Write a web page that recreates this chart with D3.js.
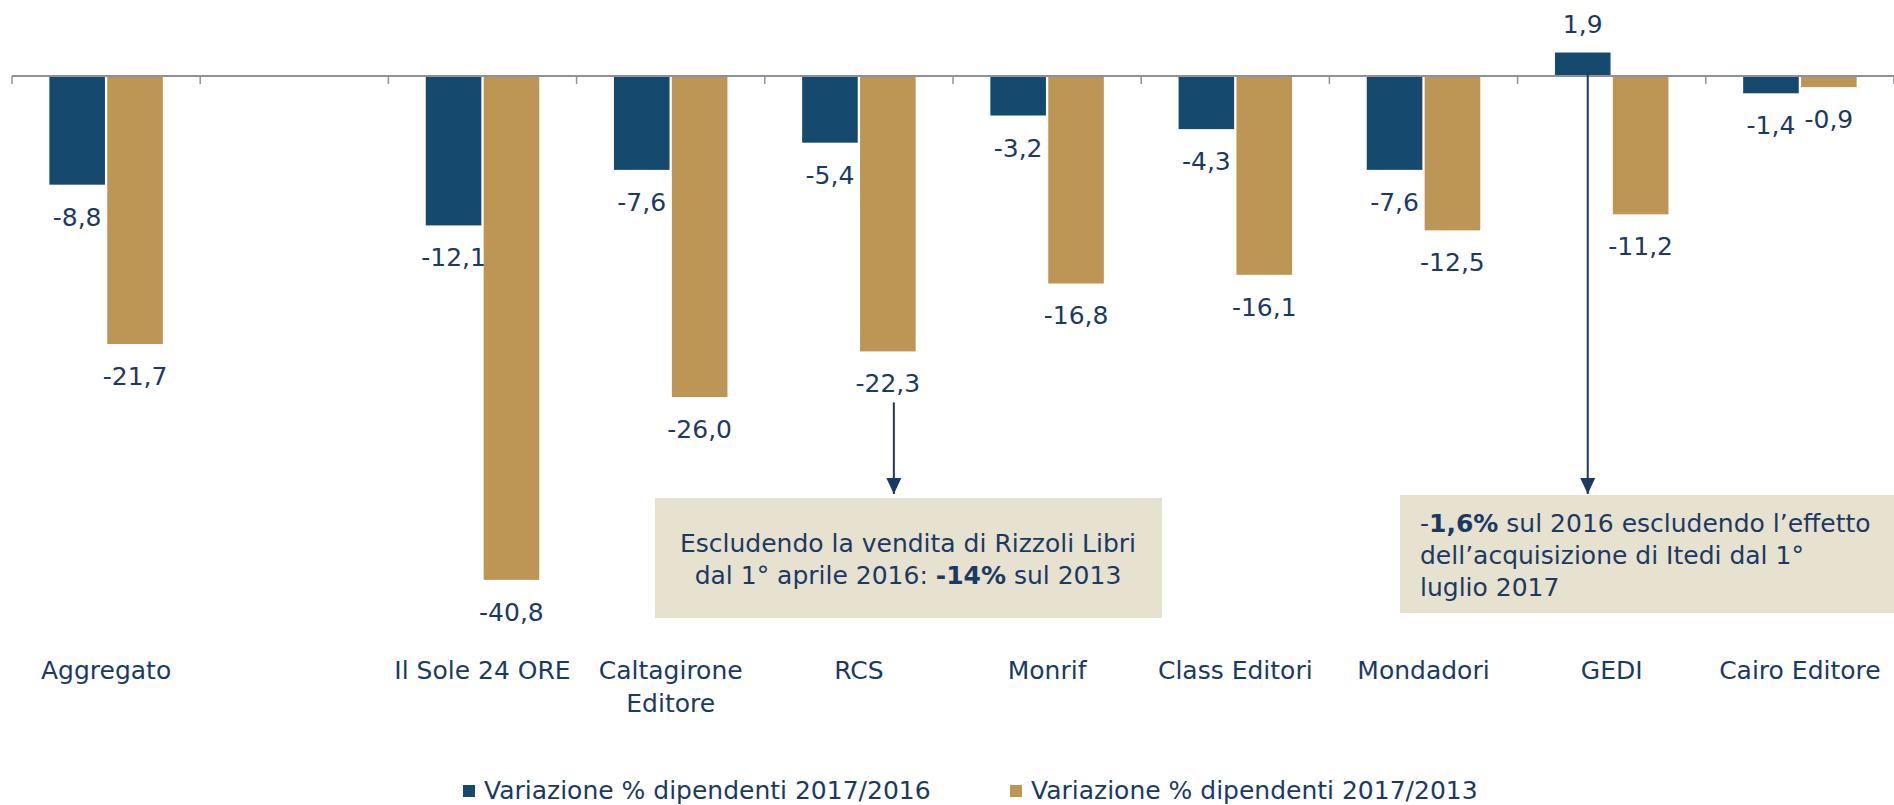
<!DOCTYPE html>
<html>
<head>
<meta charset="utf-8">
<style>
       body {
              margin: 0;
              background: #fff;
              font-family: "DejaVu Sans", sans-serif;
       }
       svg text {
              fill: #1b3a63;
              font-size: 25px;
       }
       .cat-label, .val-label {
              text-anchor: middle;
       }
</style>
</head>
<body>
<script src="https://cdn.jsdelivr.net/npm/d3@7"></script>
<script>

    var categories = ["Aggregato", "", "Il Sole 24 ORE", "Caltagirone\nEditore", "RCS",
"Monrif", "Class Editori", "Mondadori", "GEDI", "Cairo Editore"],
        var2016 = [-8.8, null, -12.1, -7.6, -5.4, -3.2, -4.3, -7.6, 1.9, -1.4],
        var2013 = [-21.7, null, -40.8, -26.0, -22.3, -16.8, -16.1, -12.5, -11.2, -0.9],
        seriesNames = ["Variazione % dipendenti 2017/2016", "Variazione % dipendenti 2017/2013"],
        seriesColors = ["#154a6e", "#bd9655"];

    var width = 1894,
        height = 805,
        left = 12,
        right = 1894,
        zeroY = 76,
        pxPerUnit = 12.35,
        labelGap = 41;

    var itLocale = d3.formatLocale({decimal: ",", thousands: ".", grouping: [3], currency: ["", "€"], minus: "-"});
    var fmt = itLocale.format(".1f");

    var svg = d3.select("body").append("svg")
        .attr("width", width)
        .attr("height", height);

    var x0 = d3.scaleBand()
        .domain(d3.range(categories.length))
        .range([left, right]);

    var groupW = x0.bandwidth() * 0.603;
    var x1 = d3.scaleBand()
        .domain([0, 1])
        .range([(x0.bandwidth() - groupW) / 2, (x0.bandwidth() + groupW) / 2])
        .paddingInner(0.04);

    var y = d3.scaleLinear()
        .domain([5, -45])
        .range([zeroY - 5 * pxPerUnit, zeroY + 45 * pxPerUnit]);

    // bars
    var series = [var2016, var2013];
    var rows = [];
    series.forEach(function(s, si) {
        s.forEach(function(v, ci) {
            if (v !== null) rows.push({s: si, c: ci, v: v});
        });
    });

    svg.append("g").selectAll("rect")
        .data(rows)
      .enter().append("rect")
        .attr("x", function(d) { return x0(d.c) + x1(d.s); })
        .attr("y", function(d) { return Math.min(y(d.v), y(0)); })
        .attr("width", x1.bandwidth())
        .attr("height", function(d) { return Math.abs(y(d.v) - y(0)); })
        .attr("fill", function(d) { return seriesColors[d.s]; });

    // axis line with ticks between categories
    var axis = svg.append("g").attr("stroke", "#8e909f");
    axis.append("line")
        .attr("x1", left).attr("x2", right)
        .attr("y1", y(0)).attr("y2", y(0))
        .attr("stroke-width", 2);
    axis.selectAll("line.tick")
        .data(d3.range(categories.length + 1))
      .enter().append("line")
        .attr("class", "tick")
        .attr("x1", function(i) { return left + i * x0.step(); })
        .attr("x2", function(i) { return left + i * x0.step(); })
        .attr("y1", y(0))
        .attr("y2", y(0) + 8)
        .attr("stroke-width", 1.5);

    // value labels
    svg.append("g").selectAll("text")
        .data(rows)
      .enter().append("text")
        .attr("class", "val-label")
        .attr("x", function(d) { return x0(d.c) + x1(d.s) + x1.bandwidth() / 2; })
        .attr("y", function(d) { return d.v < 0 ? y(d.v) + labelGap : y(d.v) - 20; })
        .text(function(d) { return fmt(d.v); });

    // category labels
    var cat = svg.append("g").selectAll("text")
        .data(categories)
      .enter().append("text")
        .attr("class", "cat-label")
        .attr("y", 679);
    cat.selectAll("tspan")
        .data(function(d, i) { return d.split("\n").map(function(t) { return {t: t, i: i}; }); })
      .enter().append("tspan")
        .attr("x", function(d) { return x0(d.i) + x0.bandwidth() / 2; })
        .attr("dy", function(d, j) { return j ? 33 : 0; })
        .text(function(d) { return d.t; });

    // arrows + notes
    var defs = svg.append("defs");
    defs.append("marker")
        .attr("id", "head")
        .attr("viewBox", "0 0 10 10")
        .attr("refX", 10).attr("refY", 5)
        .attr("markerWidth", 7.5).attr("markerHeight", 7.5)
        .attr("markerUnits", "userSpaceOnUse")
        .attr("orient", "auto")
      .append("path")
        .attr("d", "M0,0 L10,5 L0,10 z")
        .attr("fill", "#1b3a63");

    function arrow(x, yFrom, yTo) {
        svg.append("line")
            .attr("x1", x).attr("x2", x)
            .attr("y1", yFrom).attr("y2", yTo)
            .attr("stroke", "#1b3a63")
            .attr("stroke-width", 2);
        svg.append("path")
            .attr("d", "M" + (x - 7.5) + "," + (yTo - 16) + " L" + (x + 7.5) + "," + (yTo - 16) + " L" + x + "," + yTo + " z")
            .attr("fill", "#1b3a63");
    }

    var rcs = categories.indexOf("RCS"), gedi = categories.indexOf("GEDI");
    arrow(x0(rcs) + x1(1) + x1.bandwidth() / 2 + 6, y(var2013[rcs]) + labelGap + 10, 494);
    arrow(x0(gedi) + x1(0) + x1.bandwidth() / 2 + 5, y(0) - 3, 494);

    svg.append("rect")
        .attr("x", 655).attr("y", 498)
        .attr("width", 507).attr("height", 120)
        .attr("fill", "#e7e1cf");
    var note1 = svg.append("text")
        .attr("text-anchor", "middle")
        .attr("x", 908).attr("y", 552);
    note1.append("tspan").text("Escludendo la vendita di Rizzoli Libri");
    var l2 = note1.append("tspan").attr("x", 908).attr("dy", 32);
    l2.append("tspan").text("dal 1° aprile 2016: ");
    l2.append("tspan").attr("font-weight", "bold").text("-14%");
    l2.append("tspan").text(" sul 2013");

    svg.append("rect")
        .attr("x", 1400).attr("y", 495)
        .attr("width", 494).attr("height", 118)
        .attr("fill", "#e7e1cf");
    var note2 = svg.append("text")
        .attr("x", 1420).attr("y", 532);
    var m1 = note2.append("tspan");
    m1.append("tspan").text("-");
    m1.append("tspan").attr("font-weight", "bold").text("1,6%");
    m1.append("tspan").text(" sul 2016 escludendo l’effetto");
    note2.append("tspan").attr("x", 1420).attr("dy", 32).text("dell’acquisizione di Itedi dal 1°");
    note2.append("tspan").attr("x", 1420).attr("dy", 32).text("luglio 2017");

    // legend
    var legendX = [463, 1010];
    var legend = svg.append("g").selectAll("g")
        .data(seriesNames)
      .enter().append("g")
        .attr("transform", function(d, i) { return "translate(" + legendX[i] + ",0)"; });
    legend.append("rect")
        .attr("x", 0).attr("y", 785)
        .attr("width", 12).attr("height", 12)
        .attr("fill", function(d, i) { return seriesColors[i]; });
    legend.append("text")
        .attr("x", 21).attr("y", 799)
        .text(function(d) { return d; });

</script>
</body>
</html>
